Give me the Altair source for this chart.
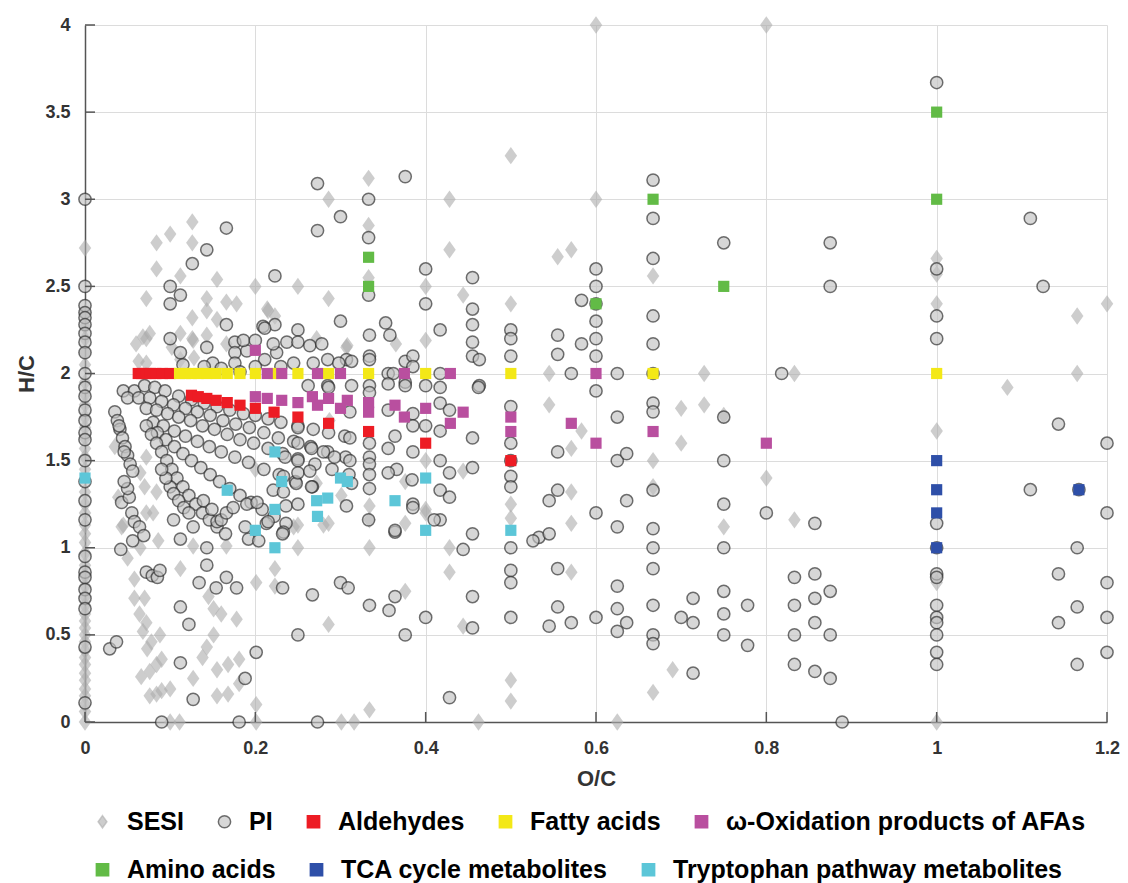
import altair as alt
import pandas as pd

# ---- values (O/C, H/C) ----
x_ticks = [0, 0.2, 0.4, 0.6, 0.8, 1.0, 1.2]
y_ticks = [0, 0.5, 1, 1.5, 2, 2.5, 3, 3.5, 4]

# SESI features (grey diamonds)
sesi_axis_hc = [0.0, 0.06, 0.1, 0.15, 0.19, 0.24, 0.28, 0.33, 0.37, 0.41, 0.46, 0.5,
                0.54, 0.58, 0.62, 0.67, 0.72, 0.78, 0.84, 0.9, 0.97, 1.03, 1.08, 1.13,
                1.2, 1.25, 1.32, 1.45, 1.52, 1.57, 1.63, 1.69, 1.75, 1.82, 1.88, 1.95,
                2.05, 2.12, 2.2, 2.27, 2.35, 2.72]
sesi_upper = [(0.084, 2.75), (0.1, 2.8), (0.126, 2.87), (0.126, 2.75), (0.084, 2.6),
              (0.112, 2.56), (0.155, 2.54), (0.2, 2.5), (0.25, 2.5), (0.286, 3.0),
              (0.286, 2.43), (0.072, 2.43), (0.143, 2.43), (0.166, 2.41), (0.178, 2.4),
              (0.126, 2.32), (0.143, 2.36), (0.155, 2.31), (0.214, 2.37), (0.223, 2.33),
              (0.112, 2.23), (0.126, 2.2), (0.143, 2.22), (0.06, 2.17), (0.072, 2.2),
              (0.076, 2.23), (0.063, 2.07), (0.072, 2.06), (0.166, 2.17), (0.112, 2.08),
              (0.128, 2.09), (0.272, 2.2), (0.307, 2.15), (0.102, 2.15), (0.127, 2.19),
              (0.068, 2.21), (0.333, 3.12), (0.333, 2.85), (0.333, 2.55), (0.4, 2.5),
              (0.428, 3.0), (0.428, 2.71), (0.5, 3.25), (0.6, 4.0), (0.8, 4.0), (0.6, 3.0),
              (0.555, 2.67), (0.571, 2.71), (0.667, 2.56), (0.444, 2.45), (0.5, 2.4),
              (0.4, 2.19), (0.365, 2.17), (0.308, 2.16), (0.215, 2.36)]
sesi_middle = [(0.545, 2.0), (0.727, 2.0), (0.833, 2.0), (0.545, 1.82), (0.7, 1.8),
               (0.727, 1.82), (0.75, 1.76), (0.583, 1.67), (0.571, 1.57), (0.7, 1.6),
               (0.667, 1.5), (0.4, 1.5), (0.444, 1.44), (0.8, 1.4), (0.571, 1.32),
               (0.5, 1.25), (0.5, 1.17), (0.4, 1.2), (0.571, 1.14), (0.75, 1.12),
               (0.833, 1.16), (0.428, 1.0), (0.428, 0.86), (0.571, 0.86), (0.667, 1.35),
               (0.25, 1.13), (0.25, 1.0), (0.286, 1.14), (0.301, 1.3), (0.272, 1.37),
               (0.334, 1.24), (0.334, 1.16), (0.334, 1.0), (0.376, 1.14), (0.376, 1.38),
               (0.4, 1.22), (0.287, 1.73), (0.065, 1.43), (0.07, 1.35), (0.084, 1.32),
               (0.043, 1.12), (0.072, 1.2), (0.086, 1.04), (0.065, 1.0), (0.127, 1.01),
               (0.166, 1.01), (0.072, 1.52), (0.039, 1.29), (0.08, 1.2), (0.245, 1.12),
               (0.28, 1.13), (0.112, 0.88), (0.05, 0.94), (0.045, 1.13), (0.2, 1.45),
               (0.035, 1.58)]
sesi_right = [(1.0, 2.66), (1.0, 2.57), (1.0, 2.4), (1.165, 2.33), (1.2, 2.4),
              (1.165, 2.0), (1.083, 1.92), (1.0, 1.67), (1.0, 0.8), (1.0, 0.0)]
sesi_lower = [(0.058, 0.82), (0.058, 0.71), (0.07, 0.71), (0.064, 0.62), (0.072, 0.57),
              (0.068, 0.52), (0.088, 0.5), (0.078, 0.46), (0.073, 0.42), (0.066, 0.26),
              (0.076, 0.29), (0.084, 0.33), (0.09, 0.36), (0.076, 0.15), (0.084, 0.16),
              (0.09, 0.18), (0.1, 0.19), (0.1, 0.0), (0.111, 0.0), (0.127, 0.25),
              (0.138, 0.37), (0.143, 0.43), (0.151, 0.5), (0.145, 0.72), (0.151, 0.65),
              (0.16, 0.62), (0.178, 0.59), (0.155, 0.3), (0.168, 0.33), (0.155, 0.15),
              (0.168, 0.16), (0.181, 0.22), (0.181, 0.36), (0.201, 0.1), (0.201, 0.0),
              (0.201, 0.8), (0.223, 0.88), (0.223, 0.78), (0.286, 0.56), (0.301, 0.0),
              (0.316, 0.0), (0.334, 0.07), (0.376, 0.75), (0.444, 0.55), (0.69, 0.3),
              (0.5, 0.24), (0.5, 0.12), (0.667, 0.17), (0.462, 0.0), (0.625, 0.0)]

# PI features (grey circles)
pi_axis_hc = [3.0, 2.5, 2.39, 2.35, 2.32, 2.28, 2.23, 2.18, 2.12, 2.0, 1.92, 1.87, 1.79,
              1.73, 1.66, 1.62, 1.5, 1.38, 1.27, 1.16, 0.95, 0.86, 0.83, 0.76, 0.71,
              0.65, 0.43, 0.11]
pi_fan = [(0.045, 1.9), (0.058, 1.9), (0.07, 1.93), (0.082, 1.92), (0.094, 1.9),
          (0.11, 1.87), (0.125, 1.85), (0.14, 1.83), (0.155, 1.81), (0.17, 1.79),
          (0.186, 1.77), (0.2, 1.76), (0.215, 1.74), (0.23, 1.72), (0.25, 1.7),
          (0.268, 1.68), (0.286, 1.66), (0.305, 1.64),
          (0.05, 1.86), (0.063, 1.86), (0.076, 1.86), (0.09, 1.84), (0.104, 1.82),
          (0.118, 1.8), (0.132, 1.78), (0.147, 1.76), (0.162, 1.73), (0.177, 1.71),
          (0.193, 1.69), (0.21, 1.66), (0.227, 1.63), (0.245, 1.61), (0.265, 1.58),
          (0.285, 1.55), (0.306, 1.52),
          (0.072, 1.8), (0.084, 1.79), (0.097, 1.77), (0.11, 1.75), (0.124, 1.73),
          (0.138, 1.7), (0.152, 1.68), (0.167, 1.65), (0.182, 1.62), (0.198, 1.6),
          (0.215, 1.57), (0.232, 1.54), (0.25, 1.51), (0.27, 1.48), (0.29, 1.45),
          (0.31, 1.42),
          (0.08, 1.72), (0.092, 1.7), (0.105, 1.67), (0.118, 1.64), (0.132, 1.61),
          (0.146, 1.58), (0.16, 1.55), (0.176, 1.52), (0.192, 1.49), (0.21, 1.45),
          (0.228, 1.42), (0.247, 1.38), (0.267, 1.35),
          (0.085, 1.66), (0.095, 1.62), (0.105, 1.58), (0.115, 1.54), (0.125, 1.5),
          (0.136, 1.46), (0.147, 1.42), (0.158, 1.38), (0.17, 1.34), (0.182, 1.3),
          (0.195, 1.26), (0.208, 1.22), (0.222, 1.18), (0.236, 1.14),
          (0.072, 1.7), (0.078, 1.65), (0.084, 1.6), (0.09, 1.55), (0.096, 1.5),
          (0.102, 1.45), (0.108, 1.4), (0.115, 1.35), (0.122, 1.3), (0.13, 1.25),
          (0.138, 1.2), (0.146, 1.16), (0.155, 1.12), (0.165, 1.08),
          (0.035, 1.78), (0.038, 1.73), (0.041, 1.68), (0.044, 1.63), (0.047, 1.58),
          (0.05, 1.53), (0.053, 1.48), (0.056, 1.44), (0.04, 1.7), (0.046, 1.55),
          (0.043, 1.26), (0.052, 1.29), (0.055, 1.2), (0.058, 1.15), (0.064, 1.12),
          (0.069, 1.07), (0.056, 1.04), (0.05, 1.34), (0.046, 1.38),
          (0.1, 1.35), (0.104, 1.31), (0.11, 1.27), (0.116, 1.23), (0.122, 1.2),
          (0.127, 1.12), (0.112, 1.05), (0.104, 1.16), (0.095, 1.4), (0.09, 1.45),
          (0.139, 1.27), (0.149, 1.22), (0.155, 1.15), (0.16, 1.16), (0.166, 1.2),
          (0.174, 1.23), (0.19, 1.25), (0.192, 1.05), (0.188, 1.12), (0.213, 1.14),
          (0.221, 1.33), (0.236, 1.24), (0.248, 1.37), (0.266, 1.35)]
pi_upper = [(0.1, 2.5), (0.112, 2.45), (0.1, 2.4), (0.126, 2.63), (0.143, 2.71),
            (0.166, 2.835), (0.223, 2.56), (0.273, 3.09), (0.273, 2.82), (0.3, 2.9),
            (0.333, 3.0), (0.333, 2.78), (0.376, 3.13), (0.4, 2.6), (0.4, 2.4),
            (0.333, 2.45), (0.166, 2.28), (0.1, 2.2), (0.143, 2.15), (0.112, 2.12),
            (0.25, 2.25), (0.209, 2.27), (0.223, 2.28), (0.176, 2.18), (0.176, 2.12),
            (0.19, 2.13), (0.225, 2.12), (0.176, 2.06), (0.182, 2.01), (0.211, 2.08),
            (0.268, 2.06), (0.285, 2.08), (0.186, 2.19), (0.2, 2.19), (0.221, 2.17),
            (0.237, 2.18), (0.25, 2.18), (0.264, 2.16), (0.278, 2.17), (0.211, 2.26),
            (0.3, 2.3), (0.307, 2.08), (0.313, 2.07), (0.334, 2.1), (0.334, 2.22),
            (0.353, 2.29), (0.358, 2.22), (0.376, 2.07), (0.385, 2.1), (0.356, 2.0),
            (0.362, 2.0), (0.417, 2.0), (0.376, 1.95), (0.313, 1.93), (0.285, 1.93),
            (0.463, 1.93), (0.417, 2.25), (0.455, 2.55), (0.455, 2.37), (0.455, 2.28),
            (0.455, 2.18), (0.455, 2.1), (0.463, 2.08), (0.5, 2.25), (0.5, 2.2),
            (0.5, 2.1), (0.334, 2.08), (0.334, 1.93), (0.334, 1.89), (0.356, 1.94),
            (0.385, 2.04), (0.376, 1.93), (0.286, 1.92), (0.262, 1.93), (0.298, 2.06),
            (0.15, 2.06), (0.16, 2.03), (0.14, 2.04), (0.23, 2.04), (0.245, 2.06),
            (0.2, 2.04), (0.115, 2.05)]
pi_middle = [(0.311, 1.78), (0.311, 1.63), (0.311, 1.5), (0.313, 1.37), (0.307, 1.24),
             (0.25, 1.69), (0.25, 1.6), (0.25, 1.5), (0.25, 1.43), (0.25, 1.25),
             (0.266, 1.57), (0.28, 1.55), (0.293, 1.52), (0.264, 1.44), (0.235, 1.52),
             (0.233, 1.32), (0.233, 1.09), (0.215, 1.15), (0.202, 1.26), (0.204, 1.04),
             (0.233, 1.41), (0.334, 1.6), (0.334, 1.52), (0.334, 1.48), (0.334, 1.42),
             (0.334, 1.34), (0.356, 1.79), (0.364, 1.64), (0.356, 1.57), (0.366, 1.45),
             (0.356, 1.43), (0.384, 1.39), (0.385, 1.77), (0.385, 1.7), (0.385, 1.55),
             (0.385, 1.25), (0.364, 1.09), (0.4, 1.93), (0.417, 1.92), (0.417, 1.83),
             (0.462, 1.92), (0.428, 1.79), (0.4, 1.7), (0.417, 1.67), (0.455, 1.63),
             (0.417, 1.5), (0.428, 1.43), (0.455, 1.46), (0.417, 1.33), (0.428, 1.29),
             (0.417, 1.16), (0.455, 1.08), (0.444, 0.99), (0.5, 1.81), (0.5, 1.6),
             (0.5, 1.41), (0.5, 1.35), (0.5, 1.0), (0.385, 1.23), (0.41, 1.16),
             (0.333, 1.16), (0.364, 1.1), (0.232, 1.08), (0.143, 1.0)]
pi_lower = [(0.042, 0.99), (0.072, 0.86), (0.079, 0.84), (0.085, 0.83), (0.088, 0.87),
            (0.112, 0.66), (0.122, 0.56), (0.112, 0.34), (0.029, 0.42), (0.037, 0.46),
            (0.143, 0.9), (0.134, 0.8), (0.154, 0.77), (0.166, 0.83), (0.178, 0.77),
            (0.201, 0.4), (0.188, 0.25), (0.127, 0.13), (0.09, 0.0), (0.181, 0.0),
            (0.273, 0.0), (0.232, 0.77), (0.25, 0.5), (0.267, 0.73), (0.3, 0.8),
            (0.309, 0.77), (0.334, 0.67), (0.357, 0.64), (0.364, 0.72), (0.376, 0.5),
            (0.4, 0.6), (0.455, 0.72), (0.455, 0.54), (0.428, 0.14), (0.5, 0.87),
            (0.5, 0.8), (0.5, 0.6)]
pi_right = [(0.533, 1.06), (0.526, 1.04), (0.545, 1.08), (0.555, 1.55), (0.555, 1.33),
            (0.545, 1.27), (0.555, 0.88), (0.555, 0.66), (0.545, 0.55), (0.571, 0.57),
            (0.571, 2.0), (0.555, 2.22), (0.555, 2.11), (0.583, 2.42), (0.583, 2.17),
            (0.6, 2.6), (0.6, 2.5), (0.6, 2.3), (0.6, 2.2), (0.6, 2.1), (0.6, 1.9),
            (0.6, 1.2), (0.6, 0.6), (0.625, 2.0), (0.625, 1.75), (0.625, 1.5),
            (0.636, 1.54), (0.636, 1.27), (0.625, 1.12), (0.625, 0.78), (0.625, 0.65),
            (0.636, 0.57), (0.625, 0.52), (0.667, 3.11), (0.667, 2.89), (0.667, 2.66),
            (0.667, 2.33), (0.667, 2.17), (0.667, 2.0), (0.667, 1.83), (0.667, 1.78),
            (0.667, 1.33), (0.667, 1.11), (0.667, 1.0), (0.667, 0.88), (0.667, 0.67),
            (0.667, 0.5), (0.667, 0.45), (0.7, 0.6), (0.714, 0.71), (0.714, 0.57),
            (0.714, 0.28), (0.75, 2.75), (0.75, 1.75), (0.75, 1.5), (0.75, 1.25),
            (0.75, 1.0), (0.75, 0.75), (0.75, 0.62), (0.75, 0.5), (0.778, 0.67),
            (0.778, 0.44), (0.8, 1.2), (0.818, 2.0), (0.833, 0.83), (0.833, 0.67),
            (0.833, 0.5), (0.833, 0.33), (0.857, 1.14), (0.857, 0.85), (0.875, 0.75),
            (0.857, 0.71), (0.857, 0.57), (0.875, 0.5), (0.857, 0.29), (0.875, 0.25),
            (0.889, 0.0), (0.875, 2.75), (0.875, 2.5), (1.0, 3.67), (1.0, 2.6),
            (1.0, 2.33), (1.0, 2.2), (1.0, 1.14), (1.0, 1.0), (1.0, 0.85), (1.0, 0.83),
            (1.0, 0.67), (1.0, 0.6), (1.0, 0.57), (1.0, 0.5), (1.0, 0.4), (1.0, 0.33),
            (1.11, 2.89), (1.125, 2.5), (1.143, 1.71), (1.2, 1.6), (1.11, 1.333),
            (1.2, 1.2), (1.165, 1.0), (1.143, 0.85), (1.2, 0.8), (1.165, 0.66),
            (1.2, 0.6), (1.143, 0.57), (1.2, 0.4), (1.165, 0.33), (1.167, 1.333),
            (0.6, 2.4), (0.5, 1.5)]

# annotated compound classes (squares)
aldehydes = [(0.0625, 2.0), (0.0667, 2.0), (0.0714, 2.0), (0.0769, 2.0), (0.0833, 2.0),
             (0.0909, 2.0), (0.1, 2.0), (0.125, 1.875), (0.133, 1.867), (0.143, 1.857),
             (0.154, 1.846), (0.167, 1.833), (0.182, 1.818), (0.2, 1.8), (0.222, 1.778),
             (0.25, 1.75), (0.286, 1.714), (0.333, 1.667), (0.4, 1.6), (0.5, 1.5)]
fatty_acids = [(0.111, 2.0), (0.118, 2.0), (0.125, 2.0), (0.133, 2.0), (0.143, 2.0),
               (0.154, 2.0), (0.167, 2.0), (0.182, 2.0), (0.2, 2.0), (0.222, 2.0),
               (0.25, 2.0), (0.286, 2.0), (0.333, 2.0), (0.4, 2.0), (0.5, 2.0),
               (0.667, 2.0), (1.0, 2.0)]
omega_ox = [(0.214, 2.0), (0.231, 2.0), (0.273, 2.0), (0.3, 2.0), (0.375, 2.0),
            (0.429, 2.0), (0.6, 2.0), (0.2, 2.133), (0.2, 1.867), (0.214, 1.857),
            (0.231, 1.846), (0.25, 1.833), (0.267, 1.867), (0.286, 1.857), (0.273, 1.818),
            (0.308, 1.846), (0.3, 1.8), (0.333, 1.833), (0.333, 1.778), (0.364, 1.818),
            (0.375, 1.75), (0.4, 1.8), (0.429, 1.714), (0.444, 1.778), (0.5, 1.75),
            (0.5, 1.667), (0.571, 1.714), (0.6, 1.6), (0.667, 1.667), (0.8, 1.6)]
amino_acids = [(0.333, 2.667), (0.333, 2.5), (0.6, 2.4), (0.667, 3.0), (0.75, 2.5),
               (1.0, 3.5), (1.0, 3.0)]
tca = [(1.0, 1.5), (1.0, 1.333), (1.0, 1.2), (1.0, 1.0), (1.167, 1.333)]
tryptophan = [(0.0, 1.4), (0.223, 1.55), (0.231, 1.38), (0.167, 1.33), (0.223, 1.22),
              (0.2, 1.1), (0.272, 1.27), (0.273, 1.18), (0.285, 1.285), (0.3, 1.4),
              (0.308, 1.38), (0.223, 1.0), (0.364, 1.27), (0.4, 1.1), (0.4, 1.4),
              (0.5, 1.1)]

row1 = ['SESI', 'PI', 'Aldehydes', 'Fatty acids', 'ω-Oxidation products of AFAs']
row2 = ['Amino acids', 'TCA cycle metabolites', 'Tryptophan pathway metabolites']

W, H = 1022, 697
DIAMOND = 'M0,-1L0.72,0L0,1L-0.72,0Z'
FONT = 'Liberation Sans'


def frame(points, name, field):
    df = pd.DataFrame(points, columns=['oc', 'hc'])
    df[field] = name
    return df


sesi_df = frame([(0.0, v) for v in sesi_axis_hc] + sesi_upper + sesi_middle
                + sesi_right + sesi_lower, 'SESI', 'series')
pi_df = frame([(0.0, v) for v in pi_axis_hc] + pi_fan + pi_upper + pi_middle
              + pi_lower + pi_right, 'PI', 'series')
sq1_df = pd.concat([frame(aldehydes, 'Aldehydes', 'series'),
                    frame(fatty_acids, 'Fatty acids', 'series'),
                    frame(omega_ox, row1[4], 'series')])
sq2_df = pd.concat([frame(amino_acids, row2[0], 'group'),
                    frame(tca, row2[1], 'group'),
                    frame(tryptophan, row2[2], 'group')])

x_enc = alt.X('oc:Q', scale=alt.Scale(domain=[0, 1.2], nice=False, zero=False),
              axis=alt.Axis(values=x_ticks, title='O/C', format='~g', labelFlush=False,
                            labelPadding=17, titlePadding=11))
y_enc = alt.Y('hc:Q', scale=alt.Scale(domain=[0, 4], nice=False),
              axis=alt.Axis(values=y_ticks, title='H/C', format='~g', labelFlush=False,
                            labelPadding=15, titlePadding=6))


def legend_encoding(field, names, fills, strokes, shapes, y_pos):
    leg = alt.Legend(orient='none', legendX=5, legendY=y_pos, direction='horizontal')
    return dict(
        fill=alt.Fill(f'{field}:N', scale=alt.Scale(domain=names, range=fills),
                      legend=leg, title=None),
        stroke=alt.Stroke(f'{field}:N', scale=alt.Scale(domain=names, range=strokes),
                          legend=leg, title=None),
        shape=alt.Shape(f'{field}:N', scale=alt.Scale(domain=names, range=shapes),
                        legend=leg, title=None),
    )


# translucent greys so that overlapping markers darken, as in the figure
fills1 = ['rgba(172,172,172,0.6)', 'rgba(194,194,194,0.65)', '#ed1c24', '#f3e817',
          '#b94f9f']
strokes1 = ['rgba(172,172,172,0.6)', 'rgba(38,38,38,0.65)', '#ed1c24', '#f3e817',
            '#b94f9f']
shapes1 = [DIAMOND, 'circle', 'square', 'square', 'square']
enc1 = legend_encoding('series', row1, fills1, strokes1, shapes1, 784)

fills2 = ['#62bb46', '#2e4fa8', '#5cc6d8']
enc2 = legend_encoding('group', row2, fills2, fills2, ['square'] * 3, 832)

sesi_layer = alt.Chart(sesi_df).mark_point(
    filled=True, size=300, strokeWidth=0, opacity=1
).encode(x=x_enc, y=y_enc, **enc1)

pi_layer = alt.Chart(pi_df).mark_point(
    filled=True, size=150, strokeWidth=1.5, opacity=1
).encode(x=x_enc, y=y_enc, **enc1)

sq1_layer = alt.Chart(sq1_df).mark_point(
    filled=True, size=125, strokeWidth=0, opacity=1
).encode(x=x_enc, y=y_enc, **enc1)

sq2_layer = alt.Chart(sq2_df).mark_point(
    filled=True, size=125, strokeWidth=0, opacity=1
).encode(x=x_enc, y=y_enc, **enc2)

# inward tick marks on the two axes
xtick_layer = alt.Chart(pd.DataFrame({'oc': x_ticks})).mark_rule(
    color='#555555', strokeWidth=1.5
).encode(x=x_enc, y=alt.value(H), y2=alt.value(H - 10))

ytick_layer = alt.Chart(pd.DataFrame({'hc': y_ticks})).mark_rule(
    color='#555555', strokeWidth=1.5
).encode(y=y_enc, x=alt.value(0), x2=alt.value(10))

group1 = alt.layer(sesi_layer, pi_layer, sq1_layer)

chart = alt.layer(group1, sq2_layer, xtick_layer, ytick_layer).resolve_scale(
    fill='independent', stroke='independent', shape='independent'
).properties(
    width=W, height=H, padding={'left': 7, 'top': 8, 'right': 0, 'bottom': 0}
).configure_view(
    stroke='transparent'
).configure_axis(
    labelFont=FONT, labelFontSize=18, labelFontWeight='bold', labelColor='#333333',
    titleFont=FONT, titleFontSize=22, titleFontWeight='bold', titleColor='#333333',
    domainColor='#555555', domainWidth=1.5, tickSize=0,
    gridColor='#dcdcdc', gridWidth=1
).configure_legend(
    labelFont=FONT, labelFontSize=25, labelFontWeight='bold', labelColor='#000000',
    symbolSize=150, symbolStrokeWidth=1.5, symbolOpacity=1, columnPadding=28,
    labelOffset=12, padding=0, labelLimit=600
)

chart.save('out.html', embed_options={'renderer': 'svg', 'actions': False})
